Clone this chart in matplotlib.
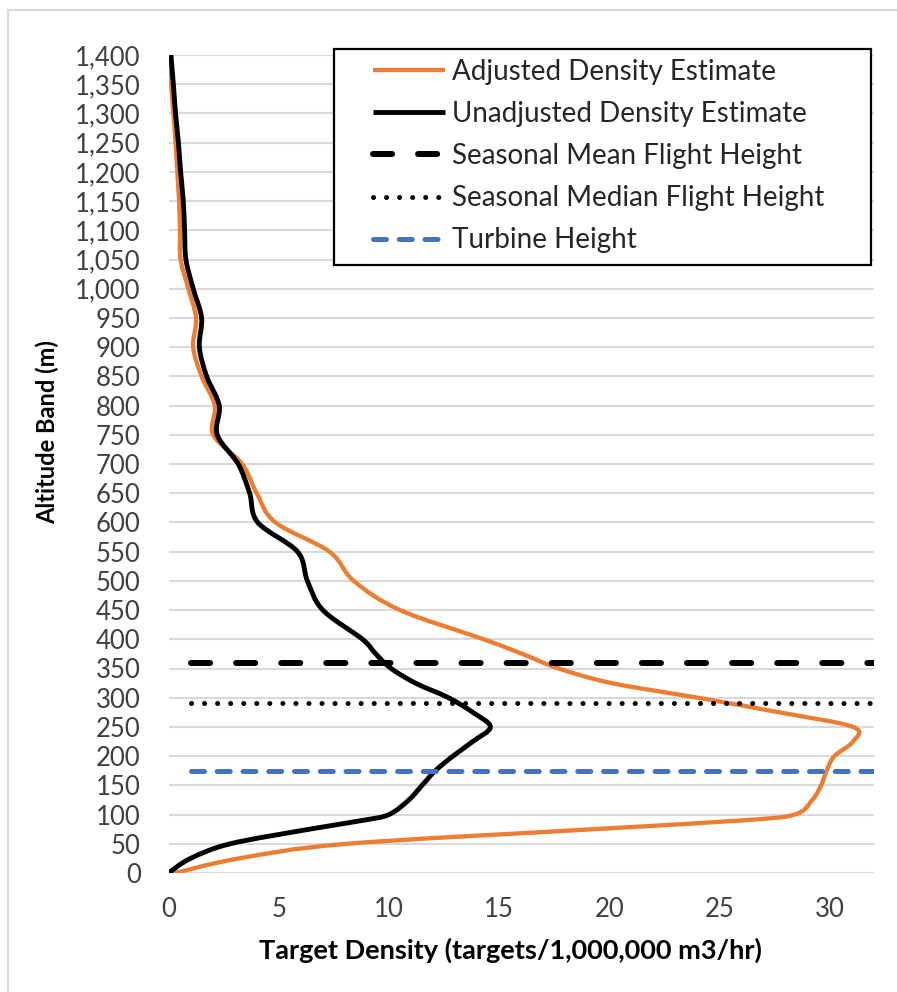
import numpy as np
import matplotlib
matplotlib.use("Agg")
import matplotlib.pyplot as plt
from matplotlib.path import Path
from matplotlib.patches import PathPatch, Rectangle
from matplotlib.lines import Line2D
from matplotlib.ticker import FuncFormatter, MultipleLocator

# ---------------- data ----------------
altitude = [0, 25, 50, 75, 90, 100, 125, 150, 175, 200, 225, 250, 275, 300, 325, 350, 375, 400,
            450, 500, 550, 600, 650, 700, 750, 800, 850, 900, 950, 1000, 1050, 1100,
            1150, 1200, 1250, 1300, 1350, 1400]
adjusted = [0.3, 3.2, 8.1, 19.3, 26.0, 28.4, 29.2, 29.6, 29.85, 30.2, 31.05, 31.05, 27.7, 24.0,
            20.1, 17.7, 16.05, 14.3,
            10.5, 8.4, 7.3, 4.85, 4.0, 3.34, 2.03, 2.10, 1.50, 1.12, 1.25, 0.90, 0.55, 0.52,
            0.48, 0.40, 0.32, 0.22, 0.12, 0.03]
unadjusted = [0.0, 1.0, 2.8, 6.4, 8.8, 10.0, 10.9, 11.5, 12.1, 12.9, 13.8, 14.6, 13.8, 12.7,
              11.2, 10.1, 9.4, 8.8,
              7.0, 6.3, 5.85, 4.05, 3.68, 3.16, 2.21, 2.30, 1.73, 1.40, 1.50, 1.12, 0.79, 0.73,
              0.67, 0.55, 0.45, 0.32, 0.22, 0.11]
mean_height = 360
median_height = 291
turbine_height = 175
ref_x = [1.0, 32.0]

labels = ["Adjusted Density Estimate", "Unadjusted Density Estimate",
          "Seasonal Mean Flight Height", "Seasonal Median Flight Height", "Turbine Height"]
x_label = "Target Density (targets/1,000,000 m3/hr)"
y_label = "Altitude Band (m)"
x_ticks = [0, 5, 10, 15, 20, 25, 30]

ORANGE = "#ED7D31"
BLACK = "#000000"
BLUE = "#4472C4"
GRID = "#D9D9D9"
TICK = "#404040"

plt.rcParams["font.family"] = ["Lato", "DejaVu Sans"]

W, H = 897, 992
fig = plt.figure(figsize=(W / 100, H / 100), dpi=100)
ax = fig.add_axes([168.5 / W, 1 - 873 / H, (874 - 168.5) / W, (873 - 55) / H])


def smooth_path(xs, ys):
    """Excel-like smoothed line (Catmull-Rom as cubic Bezier) through the data points."""
    pts = np.column_stack([xs, ys]).astype(float)
    n = len(pts)
    verts = [pts[0]]
    codes = [Path.MOVETO]
    for i in range(n - 1):
        p0 = pts[i - 1] if i > 0 else pts[i]
        p1, p2 = pts[i], pts[i + 1]
        p3 = pts[i + 2] if i + 2 < n else pts[i + 1]
        verts += [p1 + (p2 - p0) / 6.0, p2 - (p3 - p1) / 6.0, p2]
        codes += [Path.CURVE4] * 3
    return Path(verts, codes)


ax.add_patch(PathPatch(smooth_path(adjusted, altitude), fill=False, edgecolor=ORANGE,
                       lw=3.1, capstyle="round", joinstyle="round", zorder=3))
ax.add_patch(PathPatch(smooth_path(unadjusted, altitude), fill=False, edgecolor=BLACK,
                       lw=3.5, capstyle="round", joinstyle="round", zorder=4))

ax.plot(ref_x, [mean_height] * 2, color=BLACK, lw=4.3, dashes=(3.2, 4.35),
        dash_capstyle="round", zorder=5)
ax.plot(ref_x, [median_height] * 2, color=BLACK, lw=3.6, dashes=(0.01, 2.6),
        dash_capstyle="round", zorder=5)
ax.plot(ref_x, [turbine_height] * 2, color=BLUE, lw=3.6, dashes=(2.6, 2.55),
        dash_capstyle="round", zorder=5)

ax.set_xlim(0, 32)
ax.set_ylim(0, 1400)
ax.set_xticks(x_ticks)
ax.yaxis.set_major_locator(MultipleLocator(50))
ax.yaxis.set_major_formatter(FuncFormatter(lambda v, p: f"{int(round(v)):,}"))
ax.tick_params(axis="both", length=0, labelsize=18.5, labelcolor=TICK)
ax.tick_params(axis="y", pad=20)
ax.tick_params(axis="x", pad=17)
ax.yaxis.grid(True, color=GRID, lw=1.5)
ax.xaxis.grid(False)
ax.set_axisbelow(True)
for s in ax.spines.values():
    s.set_visible(False)

ax.set_xlabel(x_label, fontsize=19.5, fontweight="bold", color="black")
ax.xaxis.set_label_coords(0.484, -0.094)
ax.xaxis.label.set_va("center")
ax.set_ylabel(y_label, fontsize=17, fontweight="bold", color="black")
ax.yaxis.set_label_coords(-0.171, 0.539)
ax.yaxis.label.set_va("center")

# legend frame + entries
fig.add_artist(Rectangle((334 / W, 1 - 265 / H), (870.7 - 334) / W, (265 - 49.3) / H,
                         transform=fig.transFigure, facecolor="white", edgecolor="black",
                         lw=1.6, zorder=4))
handles = [
    Line2D([], [], color=ORANGE, lw=3.1, solid_capstyle="butt"),
    Line2D([], [], color=BLACK, lw=3.5, solid_capstyle="butt"),
    Line2D([], [], color=BLACK, lw=4.3, dashes=(3.2, 4.35), dash_capstyle="round"),
    Line2D([], [], color=BLACK, lw=3.6, dashes=(0.01, 2.6), dash_capstyle="round"),
    Line2D([], [], color=BLUE, lw=3.6, dashes=(2.6, 2.55), dash_capstyle="round"),
]
leg = fig.legend(handles, labels, loc="upper left", bbox_to_anchor=(373 / W, 1 - 59 / H),
                 bbox_transform=fig.transFigure, frameon=False, fontsize=20,
                 handlelength=2.6, handletextpad=0.25, borderpad=0, labelspacing=0.58,
                 borderaxespad=0)
leg.set_zorder(6)
for t in leg.get_texts():
    t.set_color("#262626")

# outer light-grey border of the chart area
fig.add_artist(Line2D([8 / W, 8 / W], [0, 1 - 10 / H], transform=fig.transFigure,
                      color=GRID, lw=1.5))
fig.add_artist(Line2D([8 / W, 1], [1 - 10 / H, 1 - 10 / H], transform=fig.transFigure,
                      color=GRID, lw=1.5))

fig.savefig("out.png", dpi=100, facecolor="white")
